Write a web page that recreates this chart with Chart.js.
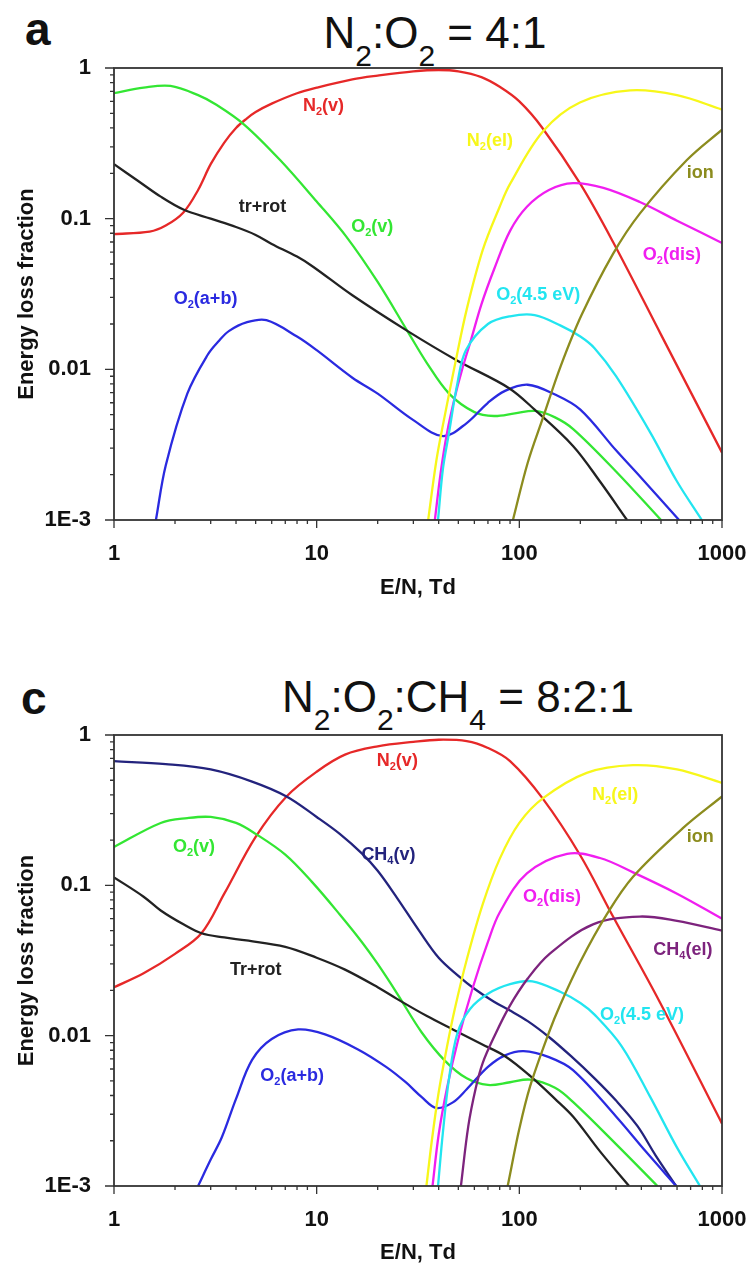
<!DOCTYPE html>
<html>
<head>
<meta charset="utf-8">
<script src="https://cdn.jsdelivr.net/npm/chart.js"></script>
<style>
  body { margin: 0; background: #fff; }
  #page { position: relative; width: 752px; height: 1268px; overflow: hidden; background: #fff; }
  canvas { position: absolute; left: 0; }
  .letter { position: absolute; font: bold 46px "Liberation Sans", Arial, sans-serif; line-height: 44px; color: #111; }
  .title { position: absolute; width: 600px; text-align: center; white-space: nowrap;
           font: 44px "Liberation Sans", Arial, sans-serif; line-height: 44px; color: #111; }
  .title span { position: relative; top: 18px; font-size: 30px; }
</style>
</head>
<body>
<div id="page">
  <div class="letter" style="left:25px; top:7px;">a</div>
  <div class="title" style="left:135px; top:11px;">N<span>2</span>:O<span>2</span> = 4:1</div>
  <canvas id="chartA" width="752" height="620" style="top:0px;"></canvas>

  <div class="letter" style="left:21px; top:676px;">c</div>
  <div class="title" style="left:158px; top:675px;">N<span>2</span>:O<span>2</span>:CH<span>4</span> = 8:2:1</div>
  <canvas id="chartC" width="752" height="648" style="top:620px;"></canvas>
</div>
<script>
// axis ticks
var xTickValues = [1, 10, 100, 1000];
var xTickLabels = ['1', '10', '100', '1000'];
var yTickValues = [1, 0.1, 0.01, 0.001];
var yTickLabels = ['1', '0.1', '0.01', '1E-3'];

// ---- panel a: N2:O2 = 4:1 ----
var aN2vX = [1, 1.5, 1.8, 2.2, 2.6, 3, 3.5, 4, 4.5, 5, 6, 8, 10, 15, 20, 30, 40, 50, 65, 80, 100, 130, 200, 290, 500, 1000];
var aN2vY = [0.079, 0.082, 0.09, 0.11, 0.155, 0.23, 0.32, 0.40, 0.46, 0.51, 0.58, 0.68, 0.74, 0.84, 0.89, 0.95, 0.97, 0.95, 0.87, 0.75, 0.60, 0.40, 0.17, 0.07, 0.017, 0.0028];

var aO2vX = [1, 1.4, 1.9, 2.6, 3.2, 4.4, 6.6, 10, 14, 20, 28, 35, 45, 60, 75, 95, 120, 150, 185, 300, 500];
var aO2vY = [0.68, 0.74, 0.76, 0.66, 0.57, 0.42, 0.245, 0.13, 0.076, 0.038, 0.018, 0.011, 0.0069, 0.0052, 0.0049, 0.0051, 0.0053, 0.0048, 0.0040, 0.0021, 0.001];

var aTrX = [1, 1.3, 1.7, 2.2, 3, 4, 5, 6, 8, 9.6, 15, 28, 49, 89, 119, 184, 250, 340];
var aTrY = [0.23, 0.18, 0.14, 0.115, 0.10, 0.088, 0.078, 0.068, 0.056, 0.048, 0.031, 0.018, 0.0115, 0.0075, 0.0054, 0.0031, 0.0018, 0.001];

var aO2abX = [1.61, 1.8, 2.3, 2.9, 3.3, 3.7, 4.5, 5.65, 8, 10, 15, 20, 30, 42, 55, 70, 85, 110, 150, 200, 300, 400, 614];
var aO2abY = [0.001, 0.0023, 0.0069, 0.0125, 0.0155, 0.018, 0.0205, 0.0212, 0.0165, 0.0134, 0.0088, 0.0069, 0.0046, 0.0036, 0.0044, 0.006, 0.0072, 0.0079, 0.0068, 0.0054, 0.0029, 0.0019, 0.001];

var aN2elX = [35.5, 39, 42.7, 48.3, 55, 66, 80, 90, 131, 199, 352, 600, 1000];
var aN2elY = [0.001, 0.0025, 0.0048, 0.011, 0.025, 0.062, 0.12, 0.17, 0.38, 0.59, 0.71, 0.66, 0.53];

var aO2disX = [38.3, 41, 44, 48, 52, 58, 65, 75, 90, 109, 140, 184, 260, 393, 600, 1000];
var aO2disY = [0.001, 0.0021, 0.0038, 0.0065, 0.0098, 0.016, 0.027, 0.046, 0.083, 0.12, 0.155, 0.172, 0.16, 0.129, 0.097, 0.069];

var aO245X = [39.7, 42, 45, 49.5, 54.5, 70, 90, 119, 160, 200, 235, 300, 443, 600, 795];
var aO245Y = [0.001, 0.0022, 0.0038, 0.0081, 0.0134, 0.020, 0.0225, 0.0229, 0.0195, 0.0165, 0.0138, 0.0090, 0.0038, 0.0018, 0.001];

var aIonX = [93, 110, 131, 160, 203, 289, 393, 671, 1000];
var aIonY = [0.001, 0.0024, 0.0048, 0.0105, 0.023, 0.058, 0.108, 0.245, 0.39];

// ---- panel c: N2:O2:CH4 = 8:2:1 ----
var cN2vX = [1, 1.4, 2, 2.7, 3.5, 5, 7.1, 10, 13.8, 20, 30, 40, 55, 70, 90, 130, 200, 290, 490, 1000];
var cN2vY = [0.021, 0.026, 0.035, 0.048, 0.088, 0.21, 0.39, 0.57, 0.74, 0.84, 0.90, 0.93, 0.91, 0.82, 0.67, 0.38, 0.158, 0.062, 0.017, 0.0026];

var cO2vX = [1, 1.7, 2.3, 3, 4, 5, 7, 9.5, 13, 16.7, 20, 25, 33, 43, 55, 70, 90, 113, 150, 185, 300, 480];
var cO2vY = [0.18, 0.26, 0.28, 0.285, 0.26, 0.22, 0.16, 0.105, 0.064, 0.042, 0.030, 0.019, 0.0105, 0.0068, 0.0052, 0.0047, 0.0049, 0.0051, 0.0045, 0.0036, 0.0019, 0.001];

var cTrX = [1, 1.4, 1.7, 2.2, 2.7, 3.5, 4.5, 7, 10, 13.8, 20, 25, 35, 47, 65, 85, 113, 150, 184, 250, 348];
var cTrY = [0.113, 0.084, 0.068, 0.055, 0.048, 0.045, 0.043, 0.039, 0.033, 0.0275, 0.021, 0.0175, 0.0135, 0.011, 0.0088, 0.0073, 0.0054, 0.0038, 0.0029, 0.0017, 0.001];

var cCH4vX = [1, 1.8, 3, 4.8, 7.1, 10, 13, 16.7, 20, 25, 32, 40, 50, 60, 75, 89, 110, 140, 180, 235, 300, 383, 470, 594];
var cCH4vY = [0.67, 0.64, 0.59, 0.49, 0.39, 0.285, 0.22, 0.163, 0.125, 0.082, 0.050, 0.033, 0.025, 0.0205, 0.0168, 0.0148, 0.0125, 0.0098, 0.0073, 0.0052, 0.0037, 0.0025, 0.0016, 0.001];

var cO2abX = [2.6, 3.0, 3.4, 4, 4.8, 6, 8.1, 11, 16, 22, 27.5, 33, 39, 47, 55, 70, 85, 105, 140, 184, 300, 420, 594];
var cO2abY = [0.001, 0.0015, 0.0021, 0.0038, 0.0069, 0.0095, 0.011, 0.0102, 0.0081, 0.0062, 0.0049, 0.0039, 0.0033, 0.0036, 0.0044, 0.0062, 0.0074, 0.0079, 0.0072, 0.0059, 0.0029, 0.0017, 0.001];

var cN2elX = [34.8, 37, 40, 44, 48, 55, 66, 80, 100, 131, 215, 364, 600, 1000];
var cN2elY = [0.001, 0.002, 0.0042, 0.0085, 0.015, 0.032, 0.075, 0.15, 0.26, 0.38, 0.56, 0.63, 0.59, 0.48];

var cO2disX = [37.3, 40, 44, 50, 59, 70, 80, 109, 172, 250, 364, 600, 1000];
var cO2disY = [0.001, 0.0022, 0.0045, 0.0095, 0.021, 0.042, 0.066, 0.12, 0.162, 0.152, 0.122, 0.088, 0.06];

var cO245X = [39.7, 42, 45, 49.5, 57, 70, 90, 116, 160, 200, 235, 320, 443, 600, 778];
var cO245Y = [0.001, 0.0023, 0.0052, 0.0104, 0.015, 0.019, 0.022, 0.023, 0.0195, 0.0165, 0.0138, 0.0085, 0.0039, 0.0018, 0.001];

var cCH4elX = [51.5, 56, 61, 66, 75, 89, 110, 141, 231, 393, 600, 1000];
var cCH4elY = [0.001, 0.0025, 0.0045, 0.0066, 0.0098, 0.0155, 0.024, 0.035, 0.055, 0.062, 0.058, 0.05];

var cIonX = [87.6, 100, 113, 140, 159, 200, 270, 364, 641, 1000];
var cIonY = [0.001, 0.0024, 0.0046, 0.0105, 0.016, 0.031, 0.064, 0.114, 0.24, 0.39];

// colours
var RED = '#e62828', GREEN = '#33e633', BLACK = '#222222', BLUE = '#2a2ae0',
    YELLOW = '#f7f71a', MAGENTA = '#f01ef0', CYAN = '#22e5f0', OLIVE = '#8c8c1e',
    NAVY = '#23237d', PURPLE = '#7d237d';

var FONT = '"Liberation Sans", Arial, sans-serif';

function pts(xs, ys) {
    return xs.map(function(x, i) { return { x: x, y: ys[i] }; });
}

function series(xs, ys, color) {
    return { data: pts(xs, ys), borderColor: color, backgroundColor: color, fill: false };
}

// frame + tick marks, drawn from the scales
var frameTicks = {
    id: 'frameTicks',
    afterDraw: function(chart) {
        var ctx = chart.ctx, a = chart.chartArea;
        var xs = chart.scales.x, ys = chart.scales.y;
        ctx.save();
        ctx.strokeStyle = '#333';
        ctx.lineWidth = 1.8;
        ctx.strokeRect(a.left, a.top, a.right - a.left, a.bottom - a.top);
        ctx.lineWidth = 1.3;
        ctx.beginPath();
        for (var e = 0; e <= 3; e++) {
            for (var m = 1; m <= 9; m++) {
                var v = m * Math.pow(10, e);
                if (v > 1000) break;
                var px = xs.getPixelForValue(v);
                ctx.moveTo(px, a.bottom);
                ctx.lineTo(px, a.bottom + (m === 1 ? 8 : 4));
            }
        }
        for (var e2 = -3; e2 <= 0; e2++) {
            for (var m2 = 1; m2 <= 9; m2++) {
                var v2 = m2 * Math.pow(10, e2);
                if (v2 > 1.0001) break;
                var py = ys.getPixelForValue(v2);
                ctx.moveTo(a.left, py);
                ctx.lineTo(a.left - (m2 === 1 ? 9 : 4), py);
            }
        }
        ctx.stroke();
        ctx.restore();
    }
};

// curve names, '_' marks a subscript character
function drawRich(ctx, text, cx, cy, color) {
    var parts = [], buf = '', i = 0;
    while (i < text.length) {
        if (text[i] === '_') {
            if (buf) parts.push({ t: buf, sub: false });
            buf = '';
            parts.push({ t: text[i + 1], sub: true });
            i += 2;
        } else {
            buf += text[i];
            i++;
        }
    }
    if (buf) parts.push({ t: buf, sub: false });
    var big = 'bold 18px ' + FONT, small = 'bold 11px ' + FONT;
    var w = 0;
    parts.forEach(function(p) { ctx.font = p.sub ? small : big; p.w = ctx.measureText(p.t).width; w += p.w; });
    var x = cx - w / 2;
    ctx.fillStyle = color;
    ctx.textBaseline = 'middle';
    ctx.textAlign = 'left';
    parts.forEach(function(p) {
        ctx.font = p.sub ? small : big;
        ctx.fillText(p.t, x, p.sub ? cy + 6 : cy);
        x += p.w;
    });
}

var curveLabels = {
    id: 'curveLabels',
    afterDatasetsDraw: function(chart, args, opts) {
        var ctx = chart.ctx;
        ctx.save();
        (opts.items || []).forEach(function(it) {
            drawRich(ctx, it.text, chart.scales.x.getPixelForValue(it.x), chart.scales.y.getPixelForValue(it.y), it.color);
        });
        ctx.restore();
    }
};

function tickLabel(values, labels) {
    return function(value) {
        for (var i = 0; i < values.length; i++) {
            if (Math.abs(Math.log10(value) - Math.log10(values[i])) < 1e-6) return labels[i];
        }
        return '';
    };
}

function makeOptions(padTop, xHeight, titlePadBottom, labels) {
    return {
        responsive: false,
        animation: false,
        layout: { padding: { top: padTop, right: 30, left: 0, bottom: 0 } },
        elements: {
            point: { radius: 0 },
            line: { borderWidth: 2.3, tension: 0.35 }
        },
        plugins: {
            legend: { display: false },
            tooltip: { enabled: false },
            curveLabels: { items: labels }
        },
        scales: {
            x: {
                type: 'logarithmic', min: 1, max: 1000,
                grid: { display: false }, border: { display: false },
                ticks: { autoSkip: false, maxRotation: 0, padding: 13, color: '#111',
                         font: { family: FONT, size: 22, weight: 'bold' },
                         callback: tickLabel(xTickValues, xTickLabels) },
                title: { display: true, text: 'E/N, Td', color: '#111',
                         font: { family: FONT, size: 22, weight: 'bold' },
                         padding: { top: 0, bottom: titlePadBottom } },
                afterFit: function(s) { s.height = xHeight; s.paddingLeft = 0; s.paddingRight = 0; }
            },
            y: {
                type: 'logarithmic', min: 0.001, max: 1,
                grid: { display: false }, border: { display: false },
                ticks: { autoSkip: false, padding: 15, color: '#111',
                         font: { family: FONT, size: 22, weight: 'bold' },
                         callback: tickLabel(yTickValues, yTickLabels) },
                title: { display: true, text: 'Energy loss fraction', color: '#111',
                         font: { family: FONT, size: 22, weight: 'bold' },
                         padding: { top: 14, bottom: 0 } },
                afterFit: function(s) { s.width = 114; s.paddingTop = 0; s.paddingBottom = 0; }
            }
        }
    };
}

document.addEventListener("DOMContentLoaded", function() {
    // Panel a
    new Chart(document.getElementById('chartA').getContext('2d'), {
        type: 'line',
        data: {
            datasets: [
                series(aIonX, aIonY, OLIVE),
                series(aO245X, aO245Y, CYAN),
                series(aO2disX, aO2disY, MAGENTA),
                series(aN2elX, aN2elY, YELLOW),
                series(aTrX, aTrY, BLACK),
                series(aO2abX, aO2abY, BLUE),
                series(aO2vX, aO2vY, GREEN),
                series(aN2vX, aN2vY, RED)
            ]
        },
        options: makeOptions(68, 100, 19, [
            { text: 'N_2(v)', x: 10.8, y: 0.56, color: RED },
            { text: 'tr+rot', x: 5.4, y: 0.119, color: BLACK },
            { text: 'O_2(v)', x: 18.8, y: 0.088, color: GREEN },
            { text: 'O_2(a+b)', x: 2.83, y: 0.0295, color: BLUE },
            { text: 'N_2(el)', x: 71.6, y: 0.33, color: YELLOW },
            { text: 'ion', x: 780, y: 0.20, color: OLIVE },
            { text: 'O_2(dis)', x: 566, y: 0.057, color: MAGENTA },
            { text: 'O_2(4.5 eV)', x: 124, y: 0.031, color: CYAN }
        ]),
        plugins: [frameTicks, curveLabels]
    });

    // Panel c
    new Chart(document.getElementById('chartC').getContext('2d'), {
        type: 'line',
        data: {
            datasets: [
                series(cIonX, cIonY, OLIVE),
                series(cCH4elX, cCH4elY, PURPLE),
                series(cO245X, cO245Y, CYAN),
                series(cO2disX, cO2disY, MAGENTA),
                series(cN2elX, cN2elY, YELLOW),
                series(cTrX, cTrY, BLACK),
                series(cO2abX, cO2abY, BLUE),
                series(cO2vX, cO2vY, GREEN),
                series(cCH4vX, cCH4vY, NAVY),
                series(cN2vX, cN2vY, RED)
            ]
        },
        options: makeOptions(115, 82, 2, [
            { text: 'N_2(v)', x: 25, y: 0.67, color: RED },
            { text: 'O_2(v)', x: 2.48, y: 0.179, color: GREEN },
            { text: 'CH_4(v)', x: 22.6, y: 0.16, color: NAVY },
            { text: 'Tr+rot', x: 5.0, y: 0.0275, color: BLACK },
            { text: 'N_2(el)', x: 297, y: 0.40, color: YELLOW },
            { text: 'ion', x: 780, y: 0.21, color: OLIVE },
            { text: 'O_2(dis)', x: 145, y: 0.084, color: MAGENTA },
            { text: 'CH_4(el)', x: 641, y: 0.037, color: PURPLE },
            { text: 'O_2(4.5 eV)', x: 403, y: 0.0138, color: CYAN },
            { text: 'O_2(a+b)', x: 7.57, y: 0.0054, color: BLUE }
        ]),
        plugins: [frameTicks, curveLabels]
    });
});
</script>
</body>
</html>
